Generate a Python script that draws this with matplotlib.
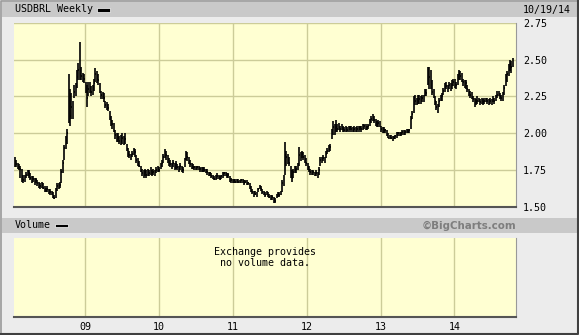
import numpy as np
import pandas as pd
import matplotlib
matplotlib.use("Agg")
import matplotlib.pyplot as plt
import matplotlib.dates as mdates
from matplotlib.patches import Rectangle

TITLE = "USDBRL Weekly"
AS_OF = "10/19/14"
FIRST_WEEK = "2008-01-18"

# weekly bars (Jan 2008 .. Oct 2014)
close = [
    1.82, 1.79, 1.78, 1.77, 1.76, 1.71, 1.68, 1.70, 1.72, 1.74,
    1.73, 1.70, 1.68, 1.69, 1.67, 1.68, 1.66, 1.65, 1.64, 1.65,
    1.63, 1.62, 1.61, 1.62, 1.60, 1.60, 1.59, 1.57, 1.56, 1.62,
    1.64, 1.63, 1.65, 1.74, 1.80, 1.90, 1.95, 2.00, 2.20, 2.12,
    2.18, 2.14, 2.28, 2.30, 2.38, 2.43, 2.40, 2.39, 2.38, 2.37,
    2.31, 2.24, 2.30, 2.31, 2.28, 2.30, 2.34, 2.40, 2.38, 2.36,
    2.30, 2.26, 2.25, 2.24, 2.19, 2.18, 2.17, 2.12, 2.08, 2.06,
    2.04, 1.99, 1.96, 1.97, 1.95, 1.95, 1.97, 1.94, 1.96, 1.90,
    1.86, 1.85, 1.84, 1.86, 1.88, 1.87, 1.82, 1.80, 1.78, 1.76,
    1.73, 1.72, 1.74, 1.72, 1.74, 1.73, 1.75, 1.73, 1.74, 1.73,
    1.75, 1.76, 1.75, 1.78, 1.80, 1.84, 1.86, 1.85, 1.82, 1.80,
    1.79, 1.78, 1.80, 1.77, 1.79, 1.77, 1.76, 1.78, 1.76, 1.75,
    1.80, 1.86, 1.84, 1.81, 1.79, 1.78, 1.77, 1.77, 1.76, 1.77,
    1.76, 1.76, 1.75, 1.76, 1.75, 1.75, 1.74, 1.72, 1.73, 1.71,
    1.70, 1.69, 1.70, 1.71, 1.70, 1.69, 1.71, 1.72, 1.73, 1.72,
    1.71, 1.72, 1.69, 1.68, 1.67, 1.68, 1.67, 1.68, 1.67, 1.67,
    1.68, 1.67, 1.66, 1.67, 1.66, 1.66, 1.64, 1.61, 1.60, 1.59,
    1.59, 1.58, 1.62, 1.64, 1.62, 1.60, 1.59, 1.58, 1.60, 1.58,
    1.57, 1.56, 1.57, 1.55, 1.54, 1.58, 1.59, 1.58, 1.60, 1.66,
    1.70, 1.85, 1.84, 1.82, 1.80, 1.74, 1.70, 1.74, 1.75, 1.76,
    1.78, 1.85, 1.84, 1.86, 1.84, 1.82, 1.80, 1.77, 1.75, 1.74,
    1.73, 1.74, 1.72, 1.73, 1.72, 1.75, 1.82, 1.82, 1.83, 1.82,
    1.86, 1.88, 1.90, 1.91, 2.00, 2.04, 2.02, 2.04, 2.03, 2.05,
    2.03, 2.04, 2.03, 2.02, 2.03, 2.02, 2.03, 2.04, 2.03, 2.02,
    2.03, 2.02, 2.03, 2.03, 2.04, 2.03, 2.04, 2.05, 2.04, 2.04,
    2.05, 2.08, 2.10, 2.11, 2.09, 2.07, 2.06, 2.07, 2.05, 2.03,
    2.02, 2.02, 2.02, 2.00, 1.97, 1.98, 1.97, 1.96, 1.97, 1.98,
    1.99, 2.00, 1.99, 2.00, 2.01, 2.00, 2.01, 2.02, 2.01, 2.02,
    2.10, 2.13, 2.20, 2.22, 2.21, 2.22, 2.23, 2.22, 2.24, 2.23,
    2.28, 2.27, 2.40, 2.38, 2.35, 2.28, 2.26, 2.22, 2.18, 2.17,
    2.22, 2.24, 2.25, 2.29, 2.31, 2.32, 2.31, 2.33, 2.31, 2.33,
    2.35, 2.34, 2.33, 2.37, 2.40, 2.39, 2.38, 2.35, 2.33, 2.34,
    2.30, 2.28, 2.26, 2.25, 2.23, 2.22, 2.21, 2.22, 2.23, 2.21,
    2.22, 2.21, 2.22, 2.23, 2.22, 2.21, 2.22, 2.21, 2.23, 2.22,
    2.24, 2.26, 2.27, 2.25, 2.24, 2.26, 2.31, 2.36, 2.40, 2.44,
    2.47, 2.45, 2.49,
]
high = [
    1.84, 1.82, 1.80, 1.79, 1.78, 1.76, 1.72, 1.72, 1.74, 1.75,
    1.75, 1.73, 1.71, 1.71, 1.70, 1.70, 1.68, 1.67, 1.66, 1.67,
    1.66, 1.64, 1.63, 1.64, 1.62, 1.62, 1.61, 1.60, 1.58, 1.63,
    1.66, 1.66, 1.67, 1.76, 1.82, 1.92, 1.98, 2.03, 2.40, 2.30,
    2.27, 2.22, 2.33, 2.34, 2.43, 2.48, 2.62, 2.45, 2.41, 2.40,
    2.35, 2.33, 2.35, 2.35, 2.32, 2.33, 2.37, 2.44, 2.42, 2.40,
    2.34, 2.29, 2.28, 2.27, 2.22, 2.21, 2.20, 2.15, 2.12, 2.09,
    2.07, 2.02, 2.00, 2.00, 1.98, 1.99, 2.00, 1.98, 2.00, 1.93,
    1.90, 1.88, 1.86, 1.88, 1.90, 1.89, 1.85, 1.83, 1.81, 1.78,
    1.76, 1.75, 1.76, 1.75, 1.76, 1.75, 1.77, 1.75, 1.76, 1.75,
    1.77, 1.78, 1.77, 1.80, 1.82, 1.86, 1.89, 1.88, 1.85, 1.83,
    1.82, 1.80, 1.82, 1.80, 1.81, 1.79, 1.78, 1.80, 1.78, 1.77,
    1.83, 1.88, 1.87, 1.84, 1.82, 1.80, 1.79, 1.78, 1.78, 1.78,
    1.78, 1.77, 1.77, 1.77, 1.77, 1.76, 1.76, 1.74, 1.74, 1.73,
    1.72, 1.71, 1.72, 1.73, 1.72, 1.71, 1.72, 1.74, 1.74, 1.74,
    1.73, 1.73, 1.71, 1.70, 1.69, 1.69, 1.69, 1.69, 1.69, 1.68,
    1.69, 1.69, 1.68, 1.68, 1.68, 1.67, 1.66, 1.64, 1.62, 1.61,
    1.61, 1.60, 1.63, 1.65, 1.64, 1.62, 1.61, 1.60, 1.61, 1.60,
    1.59, 1.58, 1.58, 1.57, 1.56, 1.59, 1.60, 1.60, 1.61, 1.68,
    1.72, 1.94, 1.88, 1.86, 1.84, 1.78, 1.75, 1.76, 1.78, 1.78,
    1.80, 1.91, 1.87, 1.88, 1.87, 1.85, 1.83, 1.80, 1.78, 1.76,
    1.75, 1.75, 1.74, 1.75, 1.74, 1.77, 1.84, 1.84, 1.85, 1.84,
    1.88, 1.90, 1.92, 1.93, 2.03, 2.08, 2.06, 2.09, 2.06, 2.07,
    2.05, 2.06, 2.05, 2.04, 2.05, 2.04, 2.05, 2.05, 2.05, 2.04,
    2.05, 2.04, 2.05, 2.05, 2.05, 2.05, 2.06, 2.06, 2.06, 2.05,
    2.06, 2.10, 2.12, 2.13, 2.12, 2.10, 2.08, 2.09, 2.08, 2.05,
    2.04, 2.04, 2.03, 2.02, 2.00, 1.99, 1.99, 1.98, 1.98, 1.99,
    2.01, 2.01, 2.01, 2.01, 2.02, 2.02, 2.02, 2.03, 2.03, 2.03,
    2.12, 2.15, 2.25, 2.26, 2.24, 2.26, 2.26, 2.25, 2.26, 2.26,
    2.30, 2.30, 2.45, 2.45, 2.43, 2.36, 2.30, 2.25, 2.22, 2.20,
    2.24, 2.26, 2.27, 2.31, 2.34, 2.35, 2.33, 2.35, 2.34, 2.36,
    2.37, 2.37, 2.35, 2.40, 2.43, 2.42, 2.41, 2.37, 2.36, 2.36,
    2.33, 2.30, 2.29, 2.28, 2.25, 2.24, 2.23, 2.25, 2.24, 2.23,
    2.24, 2.23, 2.24, 2.24, 2.24, 2.23, 2.24, 2.23, 2.25, 2.24,
    2.26, 2.29, 2.29, 2.27, 2.26, 2.28, 2.33, 2.40, 2.42, 2.47,
    2.50, 2.49, 2.51,
]
low = [
    1.77, 1.77, 1.76, 1.75, 1.70, 1.67, 1.66, 1.67, 1.70, 1.71,
    1.70, 1.68, 1.66, 1.67, 1.65, 1.66, 1.64, 1.63, 1.62, 1.63,
    1.62, 1.60, 1.60, 1.60, 1.59, 1.58, 1.58, 1.56, 1.555, 1.56,
    1.61, 1.62, 1.63, 1.66, 1.73, 1.82, 1.89, 1.93, 2.07, 2.05,
    2.10, 2.10, 2.24, 2.25, 2.31, 2.36, 2.36, 2.36, 2.35, 2.34,
    2.27, 2.18, 2.25, 2.27, 2.25, 2.26, 2.29, 2.35, 2.34, 2.33,
    2.27, 2.23, 2.23, 2.21, 2.17, 2.16, 2.15, 2.09, 2.05, 2.03,
    2.01, 1.96, 1.94, 1.94, 1.93, 1.92, 1.93, 1.92, 1.93, 1.88,
    1.84, 1.83, 1.82, 1.84, 1.85, 1.84, 1.80, 1.78, 1.77, 1.74,
    1.71, 1.70, 1.71, 1.70, 1.71, 1.71, 1.72, 1.71, 1.72, 1.71,
    1.73, 1.74, 1.74, 1.76, 1.77, 1.80, 1.83, 1.82, 1.80, 1.78,
    1.77, 1.76, 1.77, 1.75, 1.76, 1.75, 1.74, 1.75, 1.74, 1.73,
    1.77, 1.82, 1.81, 1.79, 1.77, 1.76, 1.76, 1.75, 1.75, 1.75,
    1.75, 1.74, 1.74, 1.74, 1.74, 1.73, 1.72, 1.71, 1.71, 1.70,
    1.69, 1.68, 1.68, 1.69, 1.69, 1.68, 1.69, 1.70, 1.71, 1.71,
    1.70, 1.70, 1.67, 1.66, 1.66, 1.66, 1.66, 1.66, 1.66, 1.66,
    1.66, 1.66, 1.65, 1.66, 1.65, 1.65, 1.62, 1.60, 1.59, 1.57,
    1.58, 1.57, 1.60, 1.62, 1.61, 1.59, 1.58, 1.57, 1.58, 1.57,
    1.56, 1.55, 1.55, 1.53, 1.53, 1.56, 1.57, 1.57, 1.58, 1.60,
    1.64, 1.72, 1.78, 1.79, 1.78, 1.70, 1.67, 1.70, 1.73, 1.73,
    1.75, 1.78, 1.81, 1.83, 1.82, 1.80, 1.78, 1.75, 1.74, 1.72,
    1.72, 1.72, 1.71, 1.71, 1.70, 1.72, 1.78, 1.80, 1.81, 1.80,
    1.83, 1.86, 1.87, 1.88, 1.96, 1.99, 1.99, 2.01, 2.01, 2.02,
    2.01, 2.02, 2.01, 2.01, 2.01, 2.01, 2.01, 2.02, 2.01, 2.01,
    2.01, 2.01, 2.01, 2.01, 2.02, 2.01, 2.02, 2.03, 2.02, 2.02,
    2.03, 2.05, 2.07, 2.08, 2.07, 2.05, 2.04, 2.04, 2.04, 2.01,
    2.00, 2.00, 2.00, 1.98, 1.97, 1.96, 1.96, 1.95, 1.96, 1.96,
    1.97, 1.98, 1.98, 1.98, 1.99, 1.99, 1.99, 2.00, 2.00, 2.00,
    2.03, 2.10, 2.14, 2.19, 2.19, 2.20, 2.20, 2.20, 2.21, 2.21,
    2.25, 2.25, 2.33, 2.30, 2.30, 2.26, 2.24, 2.19, 2.16, 2.14,
    2.18, 2.22, 2.22, 2.26, 2.28, 2.30, 2.28, 2.30, 2.29, 2.30,
    2.32, 2.31, 2.30, 2.33, 2.36, 2.36, 2.35, 2.32, 2.31, 2.30,
    2.28, 2.25, 2.24, 2.23, 2.21, 2.18, 2.19, 2.20, 2.21, 2.19,
    2.20, 2.19, 2.20, 2.21, 2.20, 2.19, 2.20, 2.19, 2.21, 2.20,
    2.22, 2.24, 2.25, 2.23, 2.22, 2.22, 2.26, 2.32, 2.35, 2.39,
    2.42, 2.41, 2.45,
]

y_ticks = [1.50, 1.75, 2.00, 2.25, 2.50, 2.75]
year_ticks = ["2009-01-01", "2010-01-01", "2011-01-01", "2012-01-01", "2013-01-01", "2014-01-01"]
year_labels = ["09", "10", "11", "12", "13", "14"]

W, H = 579, 335
BG = "#ECECEC"
BAND = "#C9C9C9"
PANEL = "#FFFFD2"
GRID = "#CCCC99"
MONO = "DejaVu Sans Mono"

dates = mdates.date2num(pd.date_range(FIRST_WEEK, periods=len(close), freq="7D"))
xmin = mdates.date2num(pd.Timestamp("2008-01-14"))
xmax = mdates.date2num(pd.Timestamp("2014-11-02"))


def fx(px):
    return px / W


def fy(py):
    return 1 - py / H


fig = plt.figure(figsize=(W / 100, H / 100), dpi=100, facecolor=BG)

# header and volume bands
fig.patches.append(Rectangle((fx(2), fy(17)), fx(575), 15 / H, transform=fig.transFigure,
                             facecolor=BAND, edgecolor="none"))
fig.patches.append(Rectangle((fx(2), fy(233)), fx(575), 15 / H, transform=fig.transFigure,
                             facecolor=BAND, edgecolor="none"))
fig.text(fx(15), fy(9.5), TITLE, family=MONO, fontsize=7.2, va="center", ha="left")
fig.patches.append(Rectangle((fx(97), fy(11.5)), 13 / W, 3.5 / H, transform=fig.transFigure,
                             facecolor="black", edgecolor="white", lw=0.5))
fig.text(fx(571), fy(9.5), AS_OF, family=MONO, fontsize=7.2, va="center", ha="right")
fig.text(fx(15), fy(225.5), "Volume", family=MONO, fontsize=7.2, va="center", ha="left")
fig.patches.append(Rectangle((fx(55), fy(227.3)), 12.5 / W, 3.5 / H, transform=fig.transFigure,
                             facecolor="black", edgecolor="white", lw=0.5))
fig.text(fx(516), fy(225.5), "\u00a9BigCharts.com", fontsize=7.4, fontweight="bold",
         color="#7E7E7E", va="center", ha="right")

# price panel
ax = fig.add_axes([fx(14), fy(207), 502 / W, (207 - 22.7) / H], facecolor=PANEL)
ax.vlines(dates, low, high, color="black", lw=1.2)
ax.hlines(close, dates, dates + 3, color="black", lw=1.2)
ax.set_xlim(xmin, xmax)
ax.set_ylim(1.5, 2.75)
ax.set_yticks(y_ticks)
ax.set_yticklabels([f"{v:.2f}" for v in y_ticks], family=MONO, fontsize=7.2)
ax.yaxis.tick_right()
ax.tick_params(axis="y", length=0, pad=5)
ax.set_xticks(mdates.date2num(pd.to_datetime(year_ticks)))
ax.tick_params(axis="x", length=0, labelbottom=False)
ax.grid(True, color=GRID, lw=1.0)
ax.set_axisbelow(True)
for s in ["left", "top"]:
    ax.spines[s].set_visible(False)
ax.spines["right"].set_color("#999999")
ax.spines["bottom"].set_color("#555555")
ax.spines["bottom"].set_linewidth(1.5)

# volume panel
vax = fig.add_axes([fx(14), fy(317), 502 / W, (317 - 238.3) / H], facecolor=PANEL)
vax.set_xlim(xmin, xmax)
vax.set_ylim(0, 1)
vax.set_yticks([])
vax.set_xticks(mdates.date2num(pd.to_datetime(year_ticks)))
vax.set_xticklabels(year_labels, family=MONO, fontsize=7.2)
vax.tick_params(axis="x", length=0, pad=3.5)
vax.grid(True, axis="x", color=GRID, lw=1.0)
for s in ["left", "top"]:
    vax.spines[s].set_visible(False)
vax.spines["right"].set_color("#999999")
vax.spines["bottom"].set_color("#555555")
vax.spines["bottom"].set_linewidth(1.5)
vax.text(0.5, 0.757, "Exchange provides\nno volume data.", transform=vax.transAxes,
         family=MONO, fontsize=7.2, ha="center", va="center", multialignment="center",
         linespacing=1.05)

# outer frame
fig.add_artist(plt.Line2D([fx(0.5), fx(0.5), fx(578)], [fy(334), fy(0.5), fy(0.5)],
                          transform=fig.transFigure, color="#9A9A9A", lw=1.2))
fig.add_artist(plt.Line2D([fx(1), fx(578), fx(578)], [fy(334), fy(334), fy(1)],
                          transform=fig.transFigure, color="#404040", lw=1.5))

fig.savefig("out.png", dpi=100, facecolor=BG)
